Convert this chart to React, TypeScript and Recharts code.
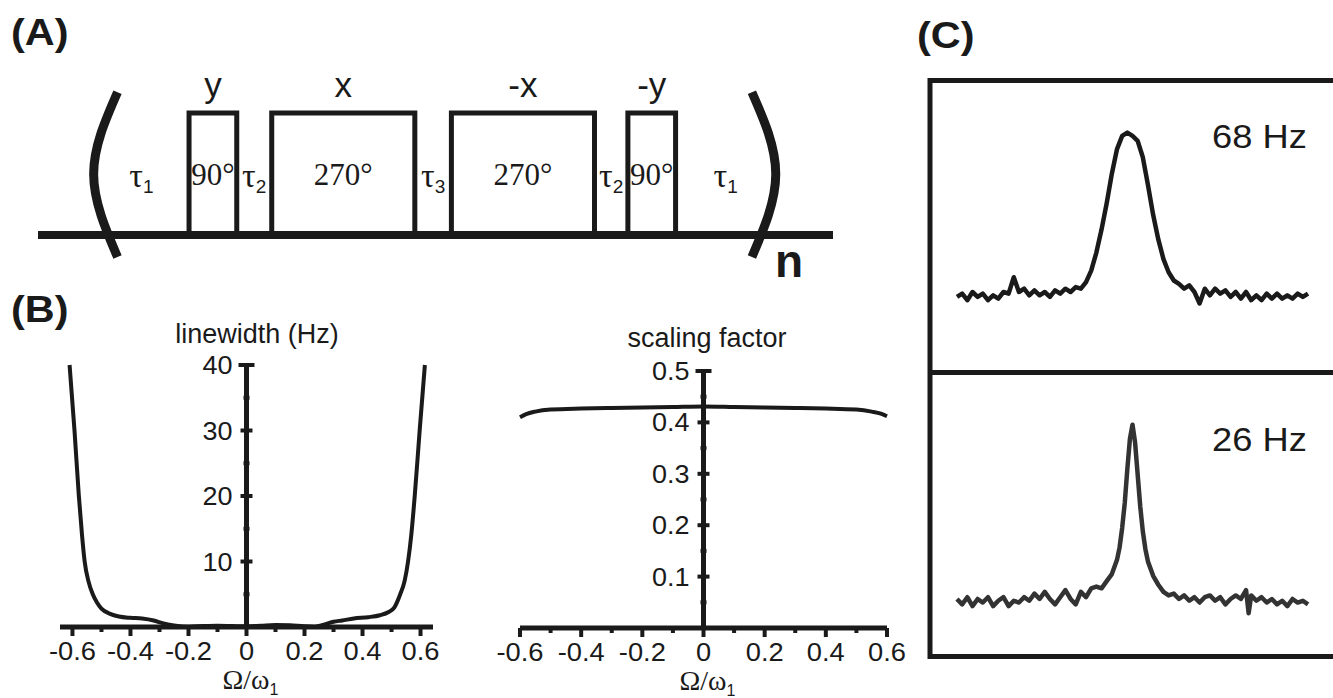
import {
  ComposedChart, LineChart, Line, XAxis, YAxis,
  ReferenceLine, ReferenceArea, ReferenceDot, Scatter,
} from 'recharts';

// ── Data ──────────────────────────────────────────────────────────────────────

// (A) pulse sequence, time in arbitrary units; delays and pulses alternate
const SEQ_START = 7.0;
const DELAY_NAMES = ['1', '2', '3', '2', '1'];
const DELAY_LENGTHS = [12.0, 4.4, 4.6, 4.2, 12.6];
const PULSE_PHASES = ['y', 'x', '-x', '-y'];
const PULSE_ANGLES = [90, 270, 270, 90];
const PULSE_LENGTHS = [6, 18, 18, 6];

// (B) linewidth vs offset
const LW_OMEGA = [
  -0.61, -0.593, -0.578, -0.567, -0.558, -0.545, -0.53, -0.515, -0.5, -0.47,
  -0.44, -0.4, -0.36, -0.32, -0.29, -0.25, -0.2, -0.15, -0.1, -0.05,
  0, 0.05, 0.1, 0.15, 0.2, 0.235, 0.27, 0.3, 0.33, 0.37,
  0.42, 0.46, 0.49, 0.51, 0.53, 0.545, 0.557, 0.568, 0.58, 0.597, 0.615,
];
const LW_HZ = [
  40, 30, 20, 14, 10, 7, 5, 3.7, 2.8, 2.0,
  1.6, 1.4, 1.3, 1.0, 0.6, 0.25, 0.05, 0.15, 0.2, 0.15,
  0.1, 0.2, 0.3, 0.25, 0.1, 0.05, 0.4, 0.8, 1.0, 1.3,
  1.5, 1.8, 2.3, 3.0, 5.0, 7.0, 10, 14, 20, 30, 40,
];

// (B) scaling factor vs offset
const SF_OMEGA = [-0.6, -0.58, -0.55, -0.5, -0.4, -0.3, -0.2, -0.1, 0, 0.1, 0.2, 0.3, 0.4, 0.5, 0.55, 0.58, 0.6];
const SF_VALUE = [0.41, 0.416, 0.421, 0.425, 0.427, 0.428, 0.429, 0.43, 0.431, 0.43, 0.429, 0.428, 0.427, 0.425, 0.421, 0.417, 0.412];

const OMEGA_TICKS = [-0.6, -0.5, -0.4, -0.3, -0.2, -0.1, 0, 0.1, 0.2, 0.3, 0.4, 0.5, 0.6];
const LW_TICKS = [5, 10, 15, 20, 25, 30, 35, 40];
const SF_TICKS = [0.05, 0.1, 0.15, 0.2, 0.25, 0.3, 0.35, 0.4, 0.45, 0.5];

// (C) spectra, offset in Hz, normalised intensity
const TOP_HZ = [
  -272, -264, -256, -248, -240, -232, -224, -216, -208, -200,
  -192, -184, -176, -168, -160, -152, -144, -136, -128, -120,
  -112, -104, -96, -88, -80, -72, -64, -56, -48, -40,
  -32, -24, -16, -8, 0, 8, 16, 24, 32, 40,
  48, 56, 64, 72, 80, 88, 96, 104, 112, 120,
  128, 136, 144, 152, 160, 168, 176, 184, 192, 200,
  208, 216, 224, 232, 240, 248, 256, 264, 272,
];
const TOP_INT = [
  0.00, 0.02, -0.02, 0.03, 0.00, 0.02, -0.02, 0.01, -0.01, 0.03,
  0.02, 0.12, 0.03, 0.05, 0.01, 0.04, 0.01, 0.03, 0.00, 0.04,
  0.02, 0.05, 0.03, 0.06, 0.05, 0.09, 0.16, 0.27, 0.41, 0.57,
  0.75, 0.90, 0.98, 1.00, 0.98, 0.95, 0.85, 0.68, 0.50, 0.35,
  0.23, 0.15, 0.10, 0.08, 0.05, 0.07, 0.03, -0.04, 0.05, 0.01,
  0.05, 0.02, 0.04, 0.00, 0.03, -0.01, 0.03, -0.02, 0.01, -0.02,
  0.02, -0.01, 0.02, -0.01, 0.01, -0.01, 0.02, 0.00, 0.02,
];
const BOT_HZ = [
  -272, -264, -256, -248, -240, -232, -224, -216, -208, -200,
  -192, -184, -176, -168, -160, -152, -144, -136, -128, -120,
  -112, -104, -96, -88, -80, -72, -64, -56, -48, -40,
  -32, -24, -20, -16, -12, -8, -4, 0, 4, 8,
  12, 16, 20, 24, 32, 40, 48, 56, 64, 72,
  80, 88, 96, 104, 112, 120, 128, 136, 144, 152,
  160, 168, 176, 180, 184, 192, 200, 208, 216, 224,
  232, 240, 248, 256, 264, 272,
];
const BOT_INT = [
  0.02, -0.01, 0.03, -0.02, 0.02, 0.00, 0.03, -0.02, 0.01, 0.03,
  -0.02, 0.01, 0.00, 0.03, 0.01, 0.05, 0.02, 0.06, 0.02, -0.01,
  0.03, 0.07, 0.02, -0.01, 0.06, 0.03, 0.08, 0.09, 0.08, 0.12,
  0.16, 0.24, 0.31, 0.42, 0.56, 0.75, 0.92, 1.00, 0.90, 0.72,
  0.54, 0.40, 0.30, 0.23, 0.15, 0.10, 0.06, 0.04, 0.05, 0.02,
  0.04, 0.01, 0.03, 0.00, 0.03, 0.04, 0.01, 0.03, -0.01, 0.02,
  0.04, 0.02, 0.07, -0.06, 0.04, 0.01, 0.03, 0.00, 0.02, -0.01,
  0.01, -0.02, 0.02, 0.00, 0.01, -0.01,
];

// ── Styling ───────────────────────────────────────────────────────────────────

const SANS = '"Liberation Sans", Arial, sans-serif';
const SERIF = '"Liberation Serif", "Times New Roman", serif';
const INK = '#1a1a1a';

const zip = (xs: number[], ys: number[]) => xs.map((x, i) => ({ x, y: ys[i] }));

// ── (A) helpers ───────────────────────────────────────────────────────────────

function buildSequence() {
  let t = SEQ_START;
  const delays: { name: string; start: number; end: number }[] = [];
  const pulses: { phase: string; angle: number; start: number; end: number }[] = [];
  DELAY_LENGTHS.forEach((d, i) => {
    delays.push({ name: DELAY_NAMES[i], start: t, end: t + d });
    t += d;
    if (i < PULSE_LENGTHS.length) {
      pulses.push({ phase: PULSE_PHASES[i], angle: PULSE_ANGLES[i], start: t, end: t + PULSE_LENGTHS[i] });
      t += PULSE_LENGTHS[i];
    }
  });
  return { delays, pulses, start: SEQ_START, end: t };
}

// bracket bulges out to `at`; dir = +1 opens right "(", -1 opens left ")"
const bracketPoints = (at: number, dir: number) => [
  { x: at + dir * 3.0, y: 1.17 },
  { x: at, y: 0.5 },
  { x: at + dir * 3.0, y: -0.18 },
];

const pulseLabel = (phase: string, angle: number) => (props: any) => {
  const { x, y, width, height } = props.viewBox;
  const cx = x + width / 2;
  return (
    <g>
      <text x={cx} y={y - 16} textAnchor="middle" fontFamily={SANS} fontSize={35} fill={INK}>{phase}</text>
      <text x={cx} y={y + height / 2 + 11} textAnchor="middle" fontFamily={SERIF} fontSize={31} fill={INK}>{angle}°</text>
    </g>
  );
};

const delayLabel = (name: string) => (props: any) => {
  const { x, y, width, height } = props.viewBox;
  return (
    <text x={x + width / 2} y={y + height / 2 + 13} textAnchor="middle" fill={INK}>
      <tspan fontFamily={SERIF} fontSize={34}>τ</tspan>
      <tspan fontFamily={SANS} fontSize={19} dy={6}>{name}</tspan>
    </text>
  );
};

function PulseSequence() {
  const { delays, pulses, start, end } = buildSequence();
  return (
    <div style={{ position: 'absolute', left: 0, top: 0 }}>
      <ComposedChart width={900} height={300} margin={{ top: 52, right: 67, bottom: 4, left: 38 }}>
        <XAxis type="number" dataKey="x" domain={[0, 100]} hide />
        <YAxis type="number" dataKey="y" domain={[-0.5, 1.5]} hide />
        <ReferenceLine y={0} stroke={INK} strokeWidth={8} />
        {pulses.map((p, i) => (
          <ReferenceArea
            key={`p${i}`}
            x1={p.start} x2={p.end} y1={0} y2={1}
            fill="none" fillOpacity={0}
            stroke={INK} strokeWidth={5}
            label={pulseLabel(p.phase, p.angle)}
          />
        ))}
        {delays.map((d, i) => (
          <ReferenceDot
            key={`d${i}`}
            x={(d.start + d.end) / 2} y={0.5} r={1}
            fill="none" stroke="none"
            label={delayLabel(d.name)}
          />
        ))}
        <Line data={bracketPoints(start, 1)} dataKey="y" type="natural" stroke={INK} strokeWidth={9}
          strokeLinecap="butt" dot={false} activeDot={false} isAnimationActive={false} />
        <Line data={bracketPoints(end, -1)} dataKey="y" type="natural" stroke={INK} strokeWidth={9}
          strokeLinecap="butt" dot={false} activeDot={false} isAnimationActive={false} />
      </ComposedChart>
    </div>
  );
}

// ── (B) helpers ───────────────────────────────────────────────────────────────

const fmtOmega = (v: number) => (v === 0 ? '0' : v.toFixed(1));

const OmegaTick = (props: any) => {
  const { x, y, payload } = props;
  const v = payload.value;
  const major = Math.round(v * 10) % 2 === 0;
  return (
    <g>
      <line x1={x} x2={x} y1={y} y2={y + (major ? 9 : 5)} stroke={INK} strokeWidth={4} />
      {major && (
        <text transform={`translate(${x},${y + 33}) scale(1.05,1)`} textAnchor="middle"
          fontFamily={SANS} fontSize={26} fill={INK}>{fmtOmega(v)}</text>
      )}
    </g>
  );
};

const OmegaLabel = (props: any) => {
  const { x, y, width } = props.viewBox;
  return (
    <text x={x + width / 2 + 4} y={y + 62} textAnchor="middle" fill={INK}>
      <tspan fontFamily={SERIF} fontSize={28}>Ω/ω</tspan>
      <tspan fontFamily={SANS} fontSize={16} dy={6}>1</tspan>
    </text>
  );
};

// cross-shaped tick on the centred vertical axis
const makeAxisTick = (isMajor: (v: number) => boolean, fmt: (v: number) => string, top: number) =>
  (props: any) => {
    const { cx, cy, payload } = props;
    const v = payload.y;
    const major = isMajor(v);
    const half = v === top ? 8 : major ? 6 : 3;
    return (
      <g>
        <line x1={cx - half} x2={cx + half} y1={cy} y2={cy} stroke={INK} strokeWidth={4} />
        {major && (
          <text transform={`translate(${cx - 14},${cy + 9}) scale(1.08,1)`} textAnchor="end"
            fontFamily={SANS} fontSize={25} fill={INK}>{fmt(v)}</text>
        )}
      </g>
    );
  };

const lwTick = makeAxisTick((v) => v % 10 === 0, (v) => String(v), 40);
const sfTick = makeAxisTick((v) => Math.round(v * 100) % 10 === 0, (v) => v.toFixed(1), 0.5);

function LinewidthChart() {
  return (
    <div style={{ position: 'absolute', left: 0, top: 300 }}>
      <ComposedChart width={460} height={398} margin={{ top: 65, right: 27, bottom: 21, left: 60 }}>
        <XAxis type="number" dataKey="x" domain={[-0.643, 0.643]} ticks={OMEGA_TICKS} interval={0}
          tickLine={false} tickSize={0} tickMargin={0} height={50}
          axisLine={{ stroke: INK, strokeWidth: 5 }} tick={OmegaTick} label={OmegaLabel} />
        <YAxis type="number" dataKey="y" domain={[0, 40]} hide />
        <ReferenceLine x={0} stroke={INK} strokeWidth={5} />
        <Scatter data={LW_TICKS.map((v) => ({ x: 0, y: v }))} dataKey="y" shape={lwTick} isAnimationActive={false} />
        <Line data={zip(LW_OMEGA, LW_HZ)} dataKey="y" type="monotone" stroke={INK} strokeWidth={4}
          dot={false} activeDot={false} isAnimationActive={false} />
      </ComposedChart>
    </div>
  );
}

function ScalingChart() {
  return (
    <div style={{ position: 'absolute', left: 460, top: 300 }}>
      <ComposedChart width={460} height={398} margin={{ top: 71, right: 33, bottom: 20, left: 60 }}>
        <XAxis type="number" dataKey="x" domain={[-0.6, 0.6]} ticks={OMEGA_TICKS} interval={0}
          tickLine={false} tickSize={0} tickMargin={0} height={50}
          axisLine={{ stroke: INK, strokeWidth: 5 }} tick={OmegaTick} label={OmegaLabel} />
        <YAxis type="number" dataKey="y" domain={[0, 0.5]} hide />
        <ReferenceLine x={0} stroke={INK} strokeWidth={5} />
        <Scatter data={SF_TICKS.map((v) => ({ x: 0, y: v }))} dataKey="y" shape={sfTick} isAnimationActive={false} />
        <Line data={zip(SF_OMEGA, SF_VALUE)} dataKey="y" type="monotone" stroke={INK} strokeWidth={4}
          dot={false} activeDot={false} isAnimationActive={false} />
      </ComposedChart>
    </div>
  );
}

// ── (C) spectra ───────────────────────────────────────────────────────────────

function Spectrum({ top, height, margin, hz, values, color }: any) {
  return (
    <div style={{ position: 'absolute', left: 930, top }}>
      <LineChart width={403} height={height} margin={margin} data={zip(hz, values)}>
        <XAxis type="number" dataKey="x" domain={[-272, 272]} hide />
        <YAxis type="number" dataKey="y" domain={[-0.25, 1.15]} hide />
        <Line dataKey="y" type="linear" stroke={color} strokeWidth={4.5} strokeLinejoin="round"
          dot={false} activeDot={false} isAnimationActive={false} />
      </LineChart>
    </div>
  );
}

// ── Figure ────────────────────────────────────────────────────────────────────

const wideText = (x: number, y: number, sx: number, text: string, size: number, bold = false, anchor = 'start') => (
  <text transform={`translate(${x},${y}) scale(${sx},1)`} textAnchor={anchor}
    fontFamily={SANS} fontSize={size} fontWeight={bold ? 700 : 400} fill={INK}>{text}</text>
);

export default function App() {
  return (
    <div style={{ position: 'absolute', left: 0, top: 0, width: 1333, height: 698, background: '#fff', overflow: 'hidden' }}>
      <PulseSequence />
      <LinewidthChart />
      <ScalingChart />
      <Spectrum top={82} height={288} margin={{ top: 26, right: 25, bottom: 32, left: 27 }}
        hz={TOP_HZ} values={TOP_INT} color={INK} />
      <Spectrum top={374} height={281} margin={{ top: 24, right: 25, bottom: 8, left: 27 }}
        hz={BOT_HZ} values={BOT_INT} color="#333" />
      <svg width={1333} height={698} style={{ position: 'absolute', left: 0, top: 0, pointerEvents: 'none' }}>
        {wideText(11, 45, 1.12, '(A)', 37, true)}
        {wideText(11, 322, 1.12, '(B)', 37, true)}
        {wideText(917, 48, 1.12, '(C)', 37, true)}
        <text x={775} y={277} fontFamily={SANS} fontSize={46} fontWeight={700} fill={INK}>n</text>
        <text x={257} y={343} textAnchor="middle" fontFamily={SANS} fontSize={27} fill={INK}>linewidth (Hz)</text>
        <text x={707} y={347} textAnchor="middle" fontFamily={SANS} fontSize={27} fill={INK}>scaling factor</text>
        {wideText(1212, 148, 1.1, '68 Hz', 33)}
        {wideText(1212, 451, 1.1, '26 Hz', 33)}
        <path d="M1340 80.5 H930 V656.5 H1340 M930 372.5 H1340" fill="none" stroke={INK} strokeWidth={5} />
      </svg>
    </div>
  );
}
